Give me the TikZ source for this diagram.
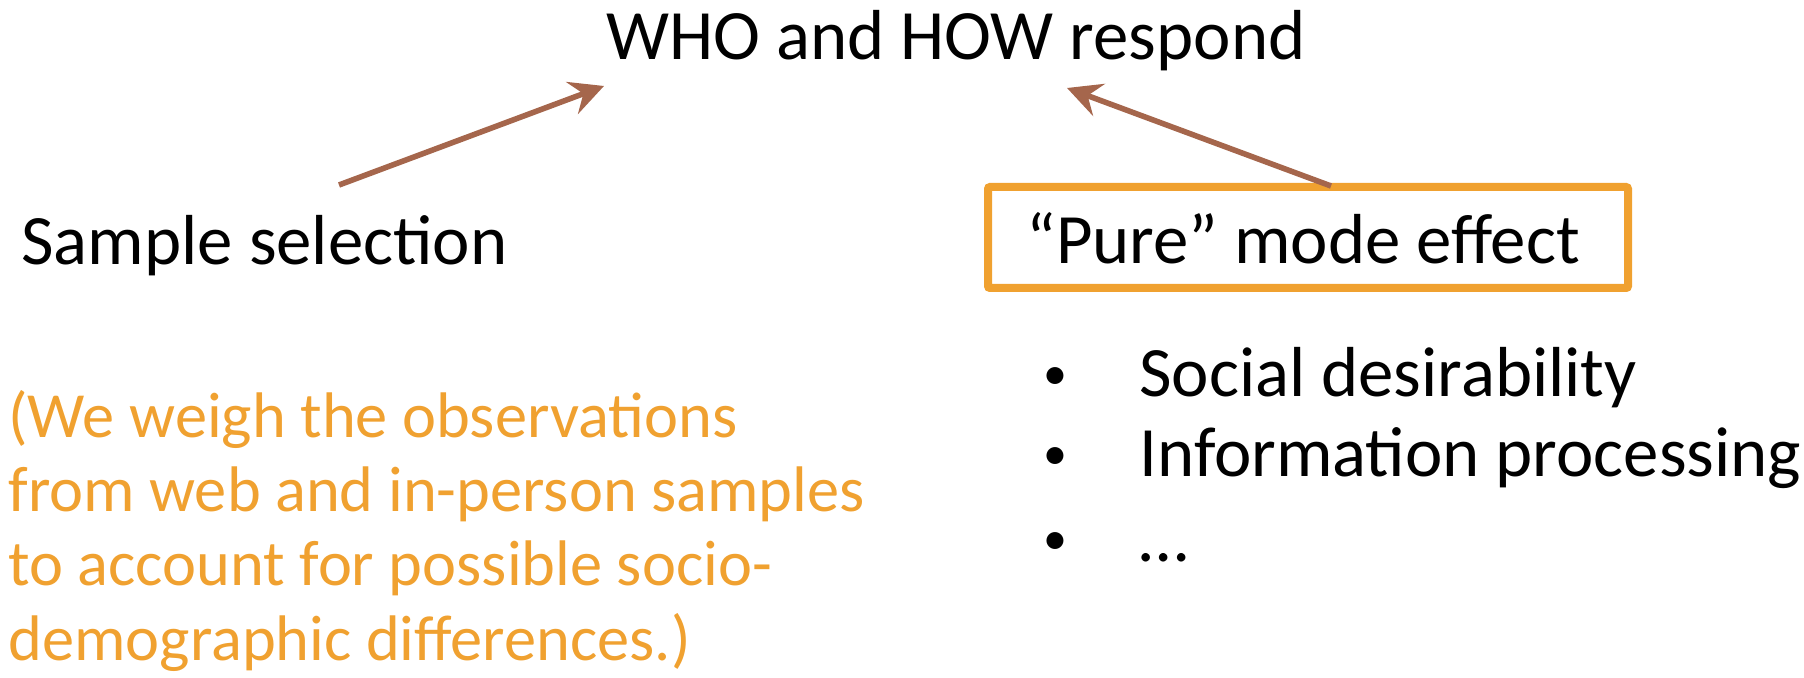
\documentclass[tikz,border=0pt]{standalone}
\usepackage{fontspec}
\setmainfont{Carlito}
\usetikzlibrary{arrows.meta}
\definecolor{arrbrown}{RGB}{165,102,76}
\definecolor{orng}{RGB}{240,161,48}
\begin{document}
\begin{tikzpicture}[x=0.5pt,y=-0.5pt,
  txt/.style={inner sep=0pt,anchor=base west,font=\fontsize{35.4}{36}\selectfont},
  bul/.style={inner sep=0pt,anchor=base west,font=\fontsize{24}{24}\selectfont},
  otxt/.style={inner sep=0pt,anchor=base west,text=orng,align=left,font=\fontsize{32.2}{37.15}\selectfont},
  conn/.style={draw=arrbrown,line width=2.8pt,-{Stealth[length=17pt,width=17pt,inset=6pt]}},
  framebox/.style={draw=orng,line width=4pt,rounded corners=1pt}]
\useasboundingbox (0,0) rectangle (1804,678);
\node[txt] (title) at (606,60) {WHO and HOW respond};
\node[txt] (sample) at (21,265) {Sample selection};
\node[txt] (pure) at (1026,264) {“Pure” mode effect};
\draw[framebox] (988,187) rectangle (1628,288);
\coordinate (boxtop) at (1331,186);
\coordinate (s1) at (339,185);
\coordinate (t1) at (604,86);
\coordinate (t2) at (1067,88);
\draw[conn] (s1) -- (t1);
\draw[conn] (boxtop) -- (t2);
\node[bul] (b1) at (1043,390) {•};
\node[txt] (l1) at (1139,397) {Social desirability};
\node[bul] (b2) at (1043,469) {•};
\node[txt] (l2) at (1139,476) {Information processing};
\node[bul] (b3) at (1043,554) {•};
\node[txt] (l3) at (1139,561) {…};
\node[otxt] (note) at (8,660) {(We weigh the observations\\from web and in-person samples\\to account for possible socio-\\demographic differences.)};
\end{tikzpicture}
\end{document}
